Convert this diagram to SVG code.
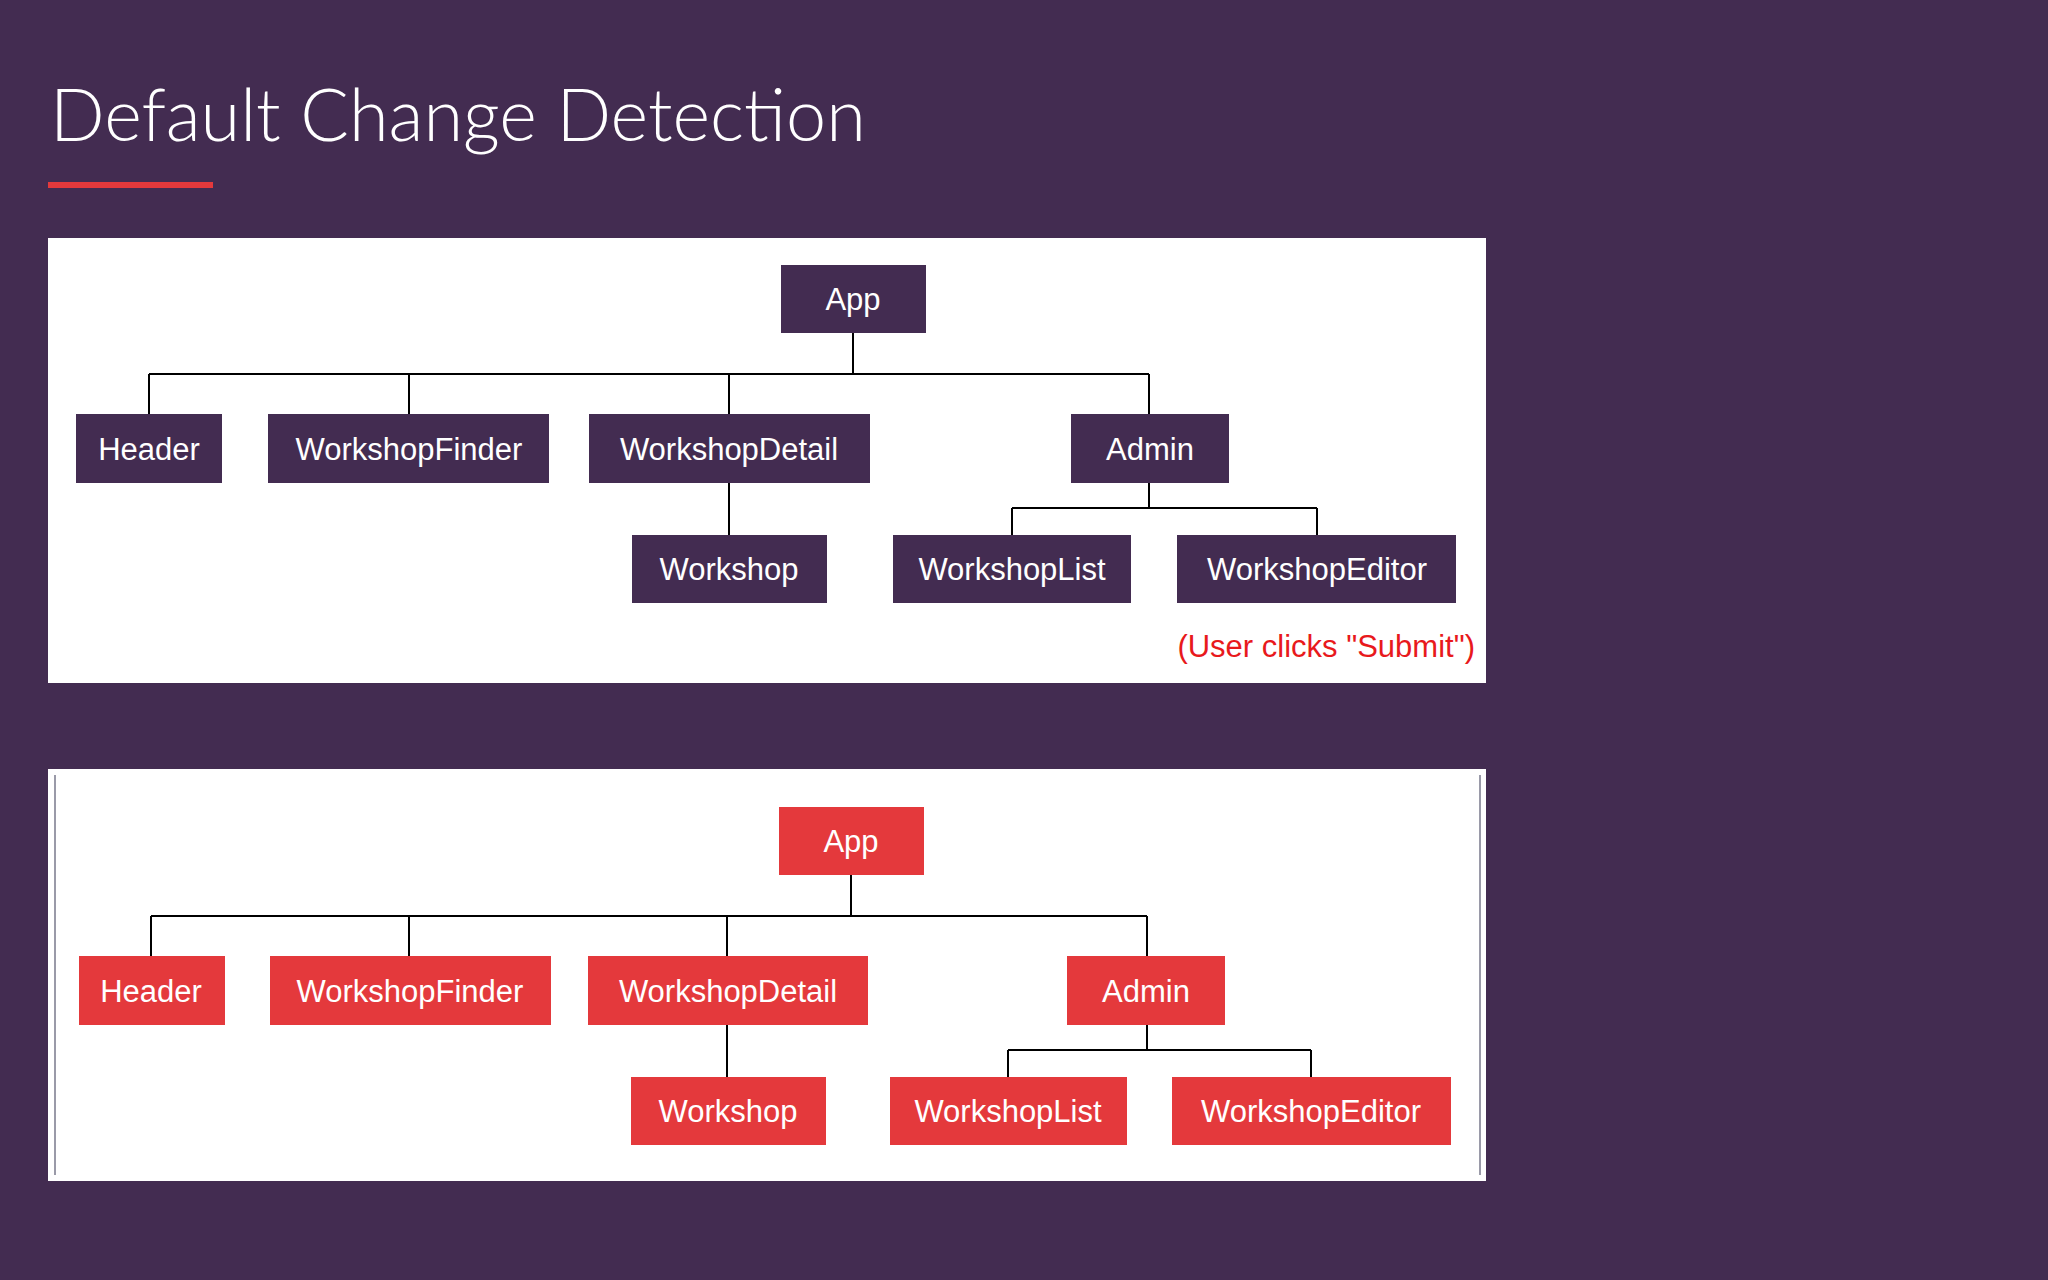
<svg xmlns="http://www.w3.org/2000/svg" width="2048" height="1280" viewBox="0 0 2048 1280">
<style>
.n rect{fill:#432c51}
.r rect{fill:#e4393c}
text.l{font-family:"Liberation Sans",Arial,sans-serif;font-size:31px;fill:#fff;text-anchor:middle}
.c path{stroke:#000;stroke-width:2;fill:none}
</style>
<rect width="2048" height="1280" fill="#432c51"/>
<text x="50" y="141" font-family="Lato, 'Open Sans', sans-serif" font-weight="300" font-size="72" fill="#fff">Default Change Detection</text>
<rect x="48" y="182" width="165" height="6" fill="#e4393c"/>
<rect x="48" y="238" width="1438" height="445" fill="#fff"/>
<rect x="48" y="769" width="1438" height="412" fill="#fff"/>
<path d="M55 775V1175M1480 775V1175" stroke="#9a9aa8" stroke-width="2"/>
<g id="panel1">
<g class="c" id="connectors1"><path d="M853 333V374M149 374H1149M149 374V414M409 374V414M729 374V414M1149 374V414M729 483V535M1149 483V508M1012 508H1317M1012 508V535M1317 508V535"/></g>
<g class="n" id="p1-app"><rect x="781" y="265" width="145" height="68"/><text class="l" x="853" y="310">App</text></g>
<g class="n" id="p1-header"><rect x="76" y="414" width="146" height="69"/><text class="l" x="149" y="460">Header</text></g>
<g class="n" id="p1-finder"><rect x="268" y="414" width="281" height="69"/><text class="l" x="409" y="460">WorkshopFinder</text></g>
<g class="n" id="p1-detail"><rect x="589" y="414" width="281" height="69"/><text class="l" x="729" y="460">WorkshopDetail</text></g>
<g class="n" id="p1-admin"><rect x="1071" y="414" width="158" height="69"/><text class="l" x="1150" y="460">Admin</text></g>
<g class="n" id="p1-workshop"><rect x="632" y="535" width="195" height="68"/><text class="l" x="729" y="580">Workshop</text></g>
<g class="n" id="p1-list"><rect x="893" y="535" width="238" height="68"/><text class="l" x="1012" y="580">WorkshopList</text></g>
<g class="n" id="p1-editor"><rect x="1177" y="535" width="279" height="68"/><text class="l" x="1317" y="580">WorkshopEditor</text></g>
<text x="1475" y="657" font-family="Liberation Sans,Arial,sans-serif" font-size="31" fill="#e8191c" text-anchor="end">(User clicks "Submit")</text>
</g>
<g id="panel2" transform="translate(-2,542)">
<g class="c" id="connectors2"><path d="M853 333V374M153 374H1149M153 374V414M411 374V414M729 374V414M1149 374V414M729 483V535M1149 483V508M1010 508H1313M1010 508V535M1313 508V535"/></g>
<g class="r" id="p2-app"><rect x="781" y="265" width="145" height="68"/><text class="l" x="853" y="310">App</text></g>
<g class="r" id="p2-header"><rect x="81" y="414" width="146" height="69"/><text class="l" x="153" y="460">Header</text></g>
<g class="r" id="p2-finder"><rect x="272" y="414" width="281" height="69"/><text class="l" x="412" y="460">WorkshopFinder</text></g>
<g class="r" id="p2-detail"><rect x="590" y="414" width="280" height="69"/><text class="l" x="730" y="460">WorkshopDetail</text></g>
<g class="r" id="p2-admin"><rect x="1069" y="414" width="158" height="69"/><text class="l" x="1148" y="460">Admin</text></g>
<g class="r" id="p2-workshop"><rect x="633" y="535" width="195" height="68"/><text class="l" x="730" y="580">Workshop</text></g>
<g class="r" id="p2-list"><rect x="892" y="535" width="237" height="68"/><text class="l" x="1010" y="580">WorkshopList</text></g>
<g class="r" id="p2-editor"><rect x="1174" y="535" width="279" height="68"/><text class="l" x="1313" y="580">WorkshopEditor</text></g>
</g>
</svg>
